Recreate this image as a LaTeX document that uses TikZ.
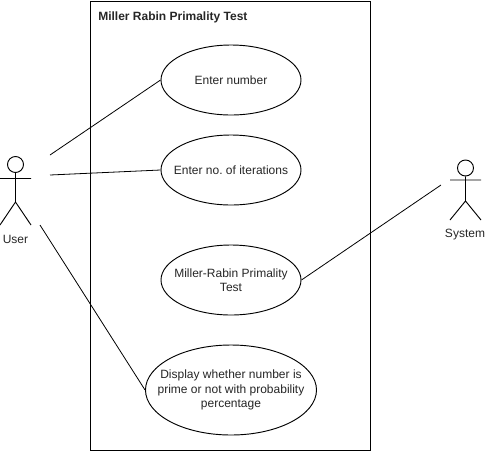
\documentclass[tikz,border=0pt]{standalone}
\usepackage{fontspec}
\setmainfont{Liberation Sans}
\frenchspacing
\usetikzlibrary{shapes.geometric}
\tikzset{
  usecase/.style={draw=black,fill=white,ellipse,inner xsep=-80pt,inner ysep=-30pt,line width=0.7pt,align=center,text=black!85,font=\fontsize{9}{10.8}\selectfont},
  boundary/.style={draw=black,line width=0.75pt,inner sep=0pt},
  link/.style={draw=black,line width=0.6pt},
  figure/.style={draw=black,line width=0.7pt},
  txt/.style={font=\fontsize{9}{12}\selectfont,inner sep=0pt,text=black!85}
}
\begin{document}
\begin{tikzpicture}[x=0.75pt,y=-0.75pt]
\useasboundingbox (0,0) rectangle (486,451);
\node[boundary,minimum width=210pt,minimum height=336.75pt,anchor=north west] (sys) at (90,0.5) {};
\node[txt,anchor=west,font=\fontsize{9}{12}\selectfont\bfseries] (title) at (98,17.5) {Miller Rabin Primality Test};
\node[usecase,minimum width=105pt,minimum height=52.5pt] (e1) at (231,80) {Enter number};
\node[usecase,minimum width=105pt,minimum height=52.5pt] (e2) at (231,170) {Enter no. of iterations};
\node[usecase,minimum width=105pt,minimum height=52.5pt] (e3) at (231,280) {Miller-Rabin Primality\\Test};
\node[usecase,minimum width=128.25pt,minimum height=67.5pt] (e4) at (231,390) {Display whether number is\\prime or not with probability\\percentage};
% User
\node[figure,circle,minimum size=12pt,inner sep=0pt] (uhead) at (15.5,164.5) {};
\coordinate (uhip) at (15.5,202);
\coordinate (uarmL) at (0,178.5);
\coordinate (uarmR) at (31,178.5);
\coordinate (ulegL) at (0,225);
\coordinate (ulegR) at (31,225);
\draw[figure] (uhead.south) -- (uhip) (uarmL) -- (uarmR) (ulegL) -- (uhip) -- (ulegR);
\node[txt] (ulabel) at (15.5,239.5) {User};
% System
\node[figure,circle,minimum size=12pt,inner sep=0pt] (shead) at (465.5,168) {};
\coordinate (ship) at (465.5,201);
\coordinate (sarmL) at (450,180);
\coordinate (sarmR) at (481,180);
\coordinate (slegL) at (450,220);
\coordinate (slegR) at (481,220);
\draw[figure] (shead.south) -- (ship) (sarmL) -- (sarmR) (slegL) -- (ship) -- (slegR);
\node[txt] (slabel) at (465,234.5) {System};
% Connectors
\coordinate (u1) at (50,155);
\coordinate (u2) at (50,175);
\coordinate (u3) at (40,225);
\coordinate (s1) at (441,185);
\draw[link] (u1) -- (e1.west);
\draw[link] (u2) -- (e2.west);
\draw[link] (u3) -- (e4.west);
\draw[link] (e3.east) -- (s1);
\end{tikzpicture}
\end{document}
